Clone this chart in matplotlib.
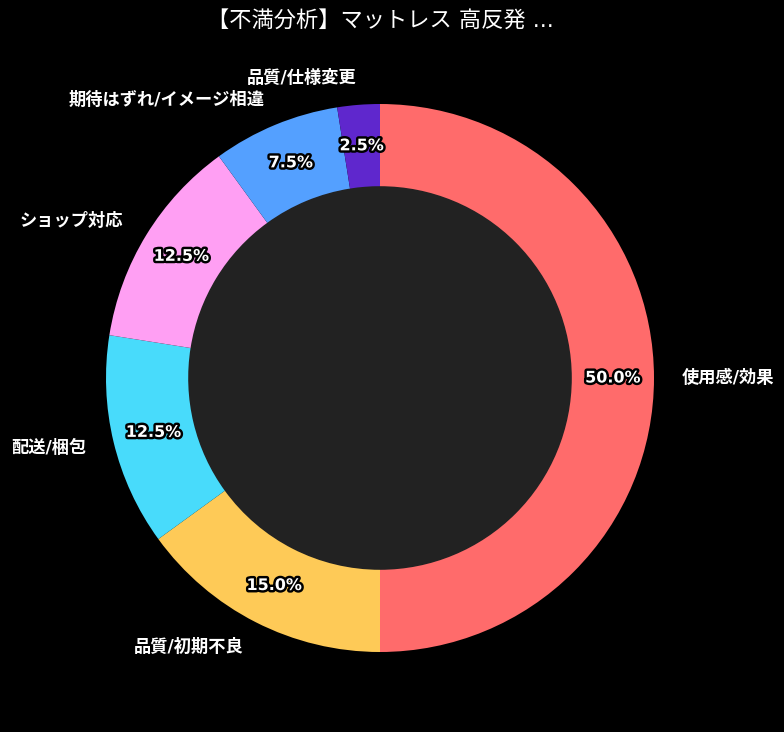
import matplotlib
matplotlib.use("Agg")
import matplotlib.pyplot as plt
import matplotlib.patheffects as pe

plt.rcParams['font.family'] = ['DejaVu Sans', 'Noto Sans CJK JP']

categories = ['使用感/効果', '品質/初期不良', '配送/梱包', 'ショップ対応', '期待はずれ/イメージ相違', '品質/仕様変更']
values = [50.0, 15.0, 12.5, 12.5, 7.5, 2.5]
colors = ['#FF6B6B', '#FECA57', '#48DBFB', '#FF9FF3', '#54A0FF', '#5F27CD']
title = '【不満分析】マットレス 高反発 ...'

W, H = 784, 732
fig = plt.figure(figsize=(W / 100, H / 100), dpi=100, facecolor='black')
R = 274.0
cx, cy = 380.0, H - 378.0
span = 2.5 * R
ax = fig.add_axes([(cx - span / 2) / W, (cy - span / 2) / H, span / W, span / H])
ax.set_facecolor('black')

wedges, texts, autotexts = ax.pie(
    values, labels=categories, colors=colors, startangle=90, counterclock=False,
    autopct='%1.1f%%', pctdistance=0.85, labeldistance=1.1,
    wedgeprops=dict(width=0.3, edgecolor='none'),
    textprops=dict(color='white', fontsize=12.4, fontweight='bold'))
for t in autotexts:
    t.set_fontsize(11.5)
    t.set_path_effects([pe.withStroke(linewidth=3.5, foreground='black')])
ax.add_patch(plt.Circle((0, 0), 0.7, color='#222222', zorder=0.5))
ax.set_xlim(-1.25, 1.25)
ax.set_ylim(-1.25, 1.25)
ax.set_aspect('equal')
ax.axis('off')

fig.text(cx / W, 1 - 20 / H, title, color='white', fontsize=16, ha='center', va='center')

fig.savefig('out.png', dpi=100, facecolor='black')
